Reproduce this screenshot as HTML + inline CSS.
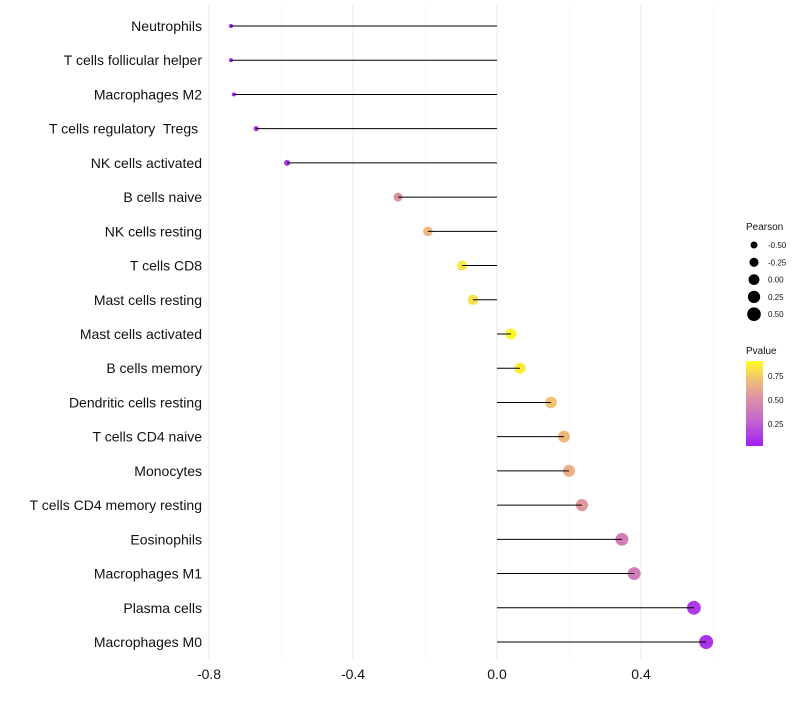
<!DOCTYPE html>
<html><head><meta charset="utf-8"><style>
body{margin:0;background:#fff;}
svg text{font-family:"Liberation Sans",sans-serif;white-space:pre;}
</style></head><body>
<svg id="chart" width="800" height="700">
<defs><linearGradient id="pg" x1="0" y1="1" x2="0" y2="0">
<stop offset="0" stop-color="#a01ef5"/><stop offset="0.3" stop-color="#c466d0"/><stop offset="0.55" stop-color="#dc8fa6"/><stop offset="0.8" stop-color="#f3c470"/><stop offset="1" stop-color="#ffff1e"/>
</linearGradient></defs>
<g id="grid"></g><g id="dots"></g><g id="marks"></g><g id="labels"></g><g id="legend"></g>
</svg>
<script>
const categories=["Neutrophils","T cells follicular helper","Macrophages M2","T cells regulatory  Tregs ","NK cells activated","B cells naive","NK cells resting","T cells CD8","Mast cells resting","Mast cells activated","B cells memory","Dendritic cells resting","T cells CD4 naive","Monocytes","T cells CD4 memory resting","Eosinophils","Macrophages M1","Plasma cells","Macrophages M0"];
const pearson=[-0.739,-0.739,-0.731,-0.669,-0.583,-0.275,-0.192,-0.097,-0.067,0.039,0.064,0.15,0.186,0.2,0.236,0.347,0.381,0.547,0.581];
const pvalue=[0.03,0.03,0.04,0.08,0.12,0.52,0.68,0.84,0.82,0.88,0.85,0.72,0.68,0.64,0.55,0.42,0.4,0.12,0.1];
const xTicks=[-0.8,-0.4,0.0,0.4];
const xTickLabels=["-0.8","-0.4","0.0","0.4"];
const sizeLegend=[-0.5,-0.25,0,0.25,0.5];
const pTicks=[0.25,0.5,0.75];
const NS="http://www.w3.org/2000/svg";
const X=v=>497+v*360;
const Y=i=>26+i*(616/18);
const R=v=>Math.sqrt(Math.max(1,29.2+34*v));
const pY=p=>446-(p-0.02)/(0.886)*85;
const stops=[[0,[160,30,245]],[0.3,[196,102,208]],[0.55,[220,143,166]],[0.8,[243,196,112]],[1,[255,255,30]]];
function col(p){let t=Math.min(1,Math.max(0,(p-0.02)/0.886));for(let k=1;k<stops.length;k++){if(t<=stops[k][0]){const a=stops[k-1],b=stops[k];const f=(t-a[0])/(b[0]-a[0]);return "rgb("+a[1].map((c,j)=>Math.round(c+(b[1][j]-c)*f)).join(",")+")";}}return "rgb(255,255,30)";}
function mk(tag,attrs,parent,txt){const e=document.createElementNS(NS,tag);for(const k in attrs)e.setAttribute(k,attrs[k]);if(txt!==undefined)e.textContent=txt;document.getElementById(parent).appendChild(e);return e;}
[-0.6,-0.2,0.2,0.6].forEach(v=>{const l=mk("line",{x1:X(v),x2:X(v),y1:5,y2:660,stroke:"#f4f4f4","stroke-width":0.6},"grid");

});
xTicks.forEach((v,i)=>{const l=mk("line",{x1:X(v),x2:X(v),y1:5,y2:660,stroke:"#ebebeb","stroke-width":1.1},"grid");


const t=mk("text",{x:X(v),y:679,"text-anchor":"middle","font-size":14,fill:"#111"},"labels",xTickLabels[i]);

});
categories.forEach((c,i)=>{const y=Y(i);
const d=mk("circle",{cx:X(pearson[i]),cy:y,r:R(pearson[i]),fill:col(pvalue[i])},"dots");


const l=mk("line",{x1:X(0),x2:X(pearson[i]),y1:y,y2:y,stroke:"#000","stroke-width":1},"marks");


const t=mk("text",{x:202,y:y+5,"text-anchor":"end","font-size":14,fill:"#111"},"labels",c);

});
let t=mk("text",{x:746,y:230,"font-size":10,fill:"#111"},"legend","Pearson");


sizeLegend.forEach((v,i)=>{const y=245+i*17.3;
const c=mk("circle",{cx:754,cy:y,r:R(v),fill:"#000"},"legend");


const s=mk("text",{x:768,y:y+3,"font-size":8,fill:"#111"},"legend",v.toFixed(2));

});
t=mk("text",{x:746,y:354,"font-size":10,fill:"#111"},"legend","Pvalue");


const bar=mk("rect",{x:746,y:361,width:17,height:85,fill:"url(#pg)"},"legend");


pTicks.forEach(p=>{const y=pY(p);
const s=mk("text",{x:768,y:y+3,"font-size":8,fill:"#111"},"legend",p.toFixed(2));

});
</script>
</body></html>
